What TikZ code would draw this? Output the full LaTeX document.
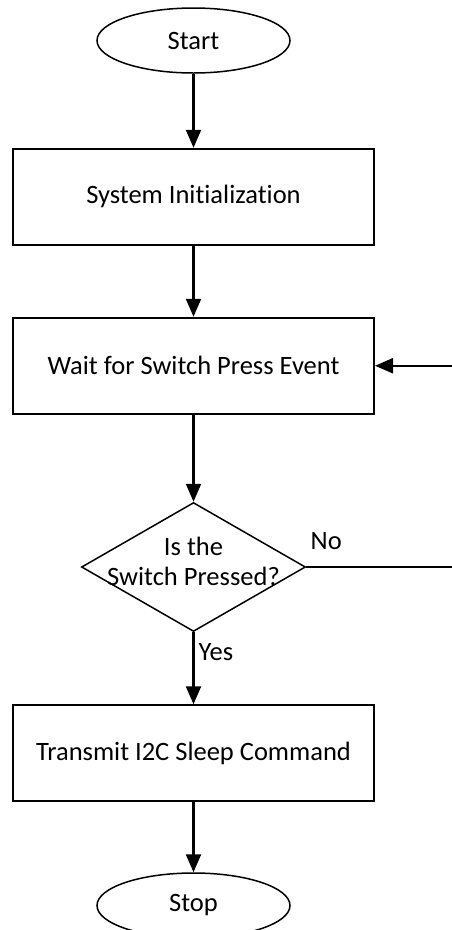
\documentclass[tikz,border=0pt]{standalone}
\usepackage{fontspec}
\setmainfont{Carlito}[Ligatures=NoCommon]
\usetikzlibrary{positioning,shapes.geometric,arrows.meta}

\begin{document}
\begin{tikzpicture}[
        x=1pt, y=1pt,
        every node/.style={font=\fontsize{26.5}{30}\selectfont},
        terminal/.style={draw, ellipse, line width=1.5pt, minimum width=193pt, minimum height=65pt, inner sep=0pt},
        process/.style={draw, rectangle, line width=2pt, minimum width=361pt, minimum height=96pt, inner sep=0pt},
        decision/.style={draw, diamond, line width=1.5pt, minimum width=224pt, minimum height=129pt, inner sep=0pt},
        flow/.style={draw, line width=2.2pt, -{Triangle[length=18pt, width=15pt]}},
        plain/.style={draw, line width=2.2pt},
    ]
    \useasboundingbox (0,0) rectangle (452,-930);
    \node[terminal] (start) at (193.5,-40.5) {Start};
    \node[process, below=74pt of start] (init) {System Initialization};
    \node[process, below=71pt of init] (wait) {Wait for Switch Press Event};
    \node[decision, below=87pt of wait] (check) {};
    \node[align=center] (checktext) at ([yshift=6pt]check.center) {Is the\\Switch Pressed?};
    \node[process, below=72pt of check] (sleep) {Transmit I2C Sleep Command};
    \node[terminal, below=70pt of sleep] (stop) {Stop};
    % free ends at the right edge
    \coordinate (rightedge) at (452,0);
    \coordinate (noend) at (check.east -| rightedge);
    \coordinate (backin) at (wait.east -| rightedge);
    \draw[flow] (start) -- (init);
    \draw[flow] (init) -- (wait);
    \draw[flow] (wait) -- (check);
    \draw[flow] (check) -- (sleep);
    \draw[flow] (sleep) -- (stop);
    \draw[plain] (check.east) -- (noend);
    \draw[flow] (backin) -- (wait.east);
    \node (nolabel) at ([xshift=20pt,yshift=26pt]check.east) {No};
    \node (yeslabel) at ([xshift=22.5pt,yshift=-20pt]check.south) {Yes};
\end{tikzpicture}
\end{document}
